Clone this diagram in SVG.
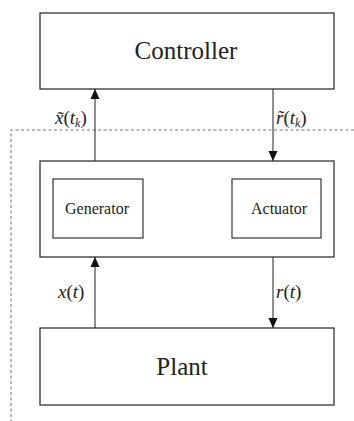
<svg xmlns="http://www.w3.org/2000/svg" width="354" height="421" viewBox="0 0 354 421">
<style>
.box{fill:#fff;stroke:#222;stroke-width:1.2}
.sub{fill:#fff;stroke:#222;stroke-width:1.1}
.t{fill:#222;text-anchor:middle}
.big{font-size:25px}
.mid{font-size:16px}
.lbl{fill:#222;font-size:19px}
.i{font-style:italic}
.w{stroke:#333;stroke-width:1.1;fill:none}
.d{stroke:#777;stroke-width:1.1;fill:none;stroke-dasharray:3 2.5}
</style>
<defs>
<marker id="ah" viewBox="0 0 10 10" refX="10" refY="5" markerWidth="10" markerHeight="10" markerUnits="userSpaceOnUse" orient="auto">
<path d="M0,0.5 L10,5 L0,9.5 Z" fill="#111"/>
</marker>
</defs>
<g id="boundary">
<path class="d" d="M354,130 H11 V421"/>
</g>
<g font-family="Liberation Serif, DejaVu Serif, serif">
<g id="controller">
<rect class="box" x="40" y="13" width="294" height="76"/>
<text class="t big" x="186" y="59">Controller</text>
</g>
<g id="interface">
<rect class="box" x="40" y="161" width="294" height="96"/>
</g>
<g id="generator">
<rect class="sub" x="53" y="179" width="90" height="59"/>
<text class="t mid" x="97" y="214">Generator</text>
</g>
<g id="actuator">
<rect class="sub" x="232" y="179" width="89" height="59"/>
<text class="t mid" x="279" y="214">Actuator</text>
</g>
<g id="plant">
<rect class="box" x="40" y="328" width="294" height="77"/>
<text class="t big" x="182" y="375">Plant</text>
</g>
<g id="connectors">
<line class="w" x1="95" y1="161" x2="95" y2="89" marker-end="url(#ah)"/>
<line class="w" x1="273" y1="89" x2="273" y2="161" marker-end="url(#ah)"/>
<line class="w" x1="95" y1="328" x2="95" y2="257" marker-end="url(#ah)"/>
<line class="w" x1="273" y1="257" x2="273" y2="328" marker-end="url(#ah)"/>
</g>
<g id="labels">
<text class="lbl" x="55" y="124"><tspan class="i">x̃</tspan>(<tspan class="i">t</tspan><tspan class="i" font-size="12" dy="3">k</tspan><tspan dy="-3">)</tspan></text>
<text class="lbl" x="276" y="124"><tspan class="i">r̃</tspan>(<tspan class="i">t</tspan><tspan class="i" font-size="12" dy="3">k</tspan><tspan dy="-3">)</tspan></text>
<text class="lbl" x="58" y="298"><tspan class="i">x</tspan>(<tspan class="i">t</tspan>)</text>
<text class="lbl" x="276" y="298"><tspan class="i">r</tspan>(<tspan class="i">t</tspan>)</text>
</g>
</g>
</svg>
